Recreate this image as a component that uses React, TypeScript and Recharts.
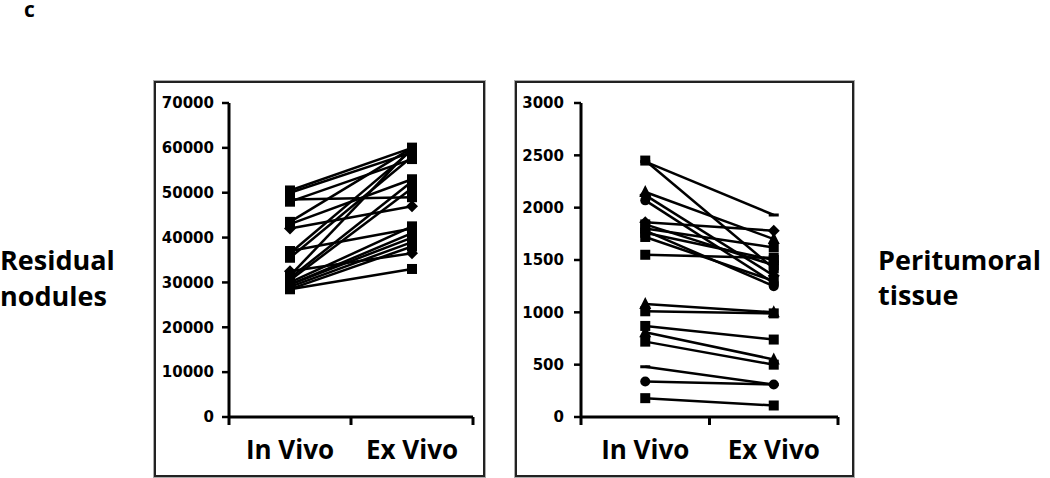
import React from 'react';
import { LineChart, Line, XAxis, YAxis } from 'recharts';

const categories = ['In Vivo', 'Ex Vivo'];

const noduleInVivo = [50500, 50000, 48500, 48000, 43500, 43000, 42000, 37000, 36500, 35500, 32500, 31500, 31000, 30500, 30000, 29500, 29500, 29000, 28500, 28500];
const noduleExVivo = [60000, 59000, 49000, 57500, 60000, 53000, 47000, 42000, 59500, 58000, 36500, 60000, 52500, 51000, 42500, 41000, 40000, 39000, 38000, 33000];
const noduleMarkers = ['square', 'square', 'square', 'square', 'square', 'square', 'diamond', 'square', 'square', 'square', 'diamond', 'square', 'square', 'square', 'square', 'square', 'square', 'square', 'square', 'square'];
const noduleTicks = [0, 10000, 20000, 30000, 40000, 50000, 60000, 70000];

const tissueInVivo = [2440, 2450, 2150, 2120, 2070, 1860, 1840, 1800, 1780, 1760, 1720, 1550, 1080, 1010, 870, 810, 720, 480, 340, 180];
const tissueExVivo = [1930, 1420, 1700, 1350, 1280, 1780, 1450, 1620, 1250, 1500, 1300, 1520, 1000, 990, 740, 550, 500, 310, 310, 110];
const tissueMarkers = ['dash', 'square', 'triangle', 'diamond', 'circle', 'diamond', 'square', 'square', 'circle', 'square', 'square', 'square', 'triangle', 'square', 'square', 'triangle', 'square', 'dash', 'circle', 'square'];
const tissueTicks = [0, 500, 1000, 1500, 2000, 2500, 3000];

const catTicks = [0, 0.5, 1, 1.5, 2];

function buildRows(inVivo: number[], exVivo: number[]) {
  return categories.map((name, i) => {
    const row: Record<string, number | string> = { x: i + 0.5, name };
    inVivo.forEach((v, j) => {
      row['s' + j] = i === 0 ? v : exVivo[j];
    });
    return row;
  });
}

const noduleRows = buildRows(noduleInVivo, noduleExVivo);
const tissueRows = buildRows(tissueInVivo, tissueExVivo);

const makeDot = (shape: string, sid: string) => (props: any) => {
  const { cx, cy, index } = props;
  const k = `${sid}-${index}`;
  if (cx == null || cy == null) return <g key={k} />;
  switch (shape) {
    case 'square':
      return <rect key={k} x={cx - 5} y={cy - 5} width={10} height={10} fill="#000" />;
    case 'diamond':
      return <polygon key={k} points={`${cx},${cy - 6} ${cx + 6},${cy} ${cx},${cy + 6} ${cx - 6},${cy}`} fill="#000" />;
    case 'triangle':
      return <polygon key={k} points={`${cx},${cy - 7} ${cx + 6},${cy + 5} ${cx - 6},${cy + 5}`} fill="#000" />;
    case 'circle':
      return <circle key={k} cx={cx} cy={cy} r={5} fill="#000" />;
    case 'dash':
      return <rect key={k} x={cx - 5} y={cy - 1.5} width={10} height={3} fill="#000" />;
    default:
      return <g key={k} />;
  }
};

const XTick = (props: any) => {
  const { x, y, payload } = props;
  const v = payload.value as number;
  if (Number.isInteger(v)) {
    return <line x1={x} x2={x} y1={y} y2={y + 8} stroke="#000" strokeWidth={3} />;
  }
  const label = categories[Math.floor(v)];
  return (
    <text x={x} y={y + 42} textAnchor="middle" fill="#000" fontFamily="'Open Sans', sans-serif" fontWeight={700} fontSize={26}>
      {label}
    </text>
  );
};

const yTickStyle = { fill: '#000', fontSize: 15, fontWeight: 700, fontFamily: "'DejaVu Sans', sans-serif" };

function Panel(props: {
  rows: any[];
  count: number;
  markers: string[];
  ticks: number[];
  max: number;
  width: number;
  yWidth: number;
  right: number;
  tickMargin: number;
  id: string;
}) {
  const { rows, count, markers, ticks, max, width, yWidth, right, tickMargin, id } = props;
  const keys = Array.from({ length: count }, (_, j) => 's' + j);
  return (
    <LineChart width={width} height={395} data={rows} margin={{ top: 21, right, left: 0, bottom: 0 }}>
      <XAxis
        dataKey="x"
        type="number"
        domain={[0, 2]}
        ticks={catTicks}
        interval={0}
        tick={<XTick />}
        tickLine={false}
        tickSize={0}
        tickMargin={0}
        stroke="#000"
        strokeWidth={3}
        axisLine={{ stroke: '#000', strokeWidth: 3 }}
        height={60}
      />
      <YAxis
        type="number"
        domain={[0, max]}
        ticks={ticks}
        interval={0}
        width={yWidth}
        tickSize={7}
        tickMargin={tickMargin}
        stroke="#000"
        strokeWidth={3}
        tickLine={{ stroke: '#000', strokeWidth: 2.5 }}
        axisLine={{ stroke: '#000', strokeWidth: 3 }}
        tick={yTickStyle}
      />
      {keys.map((k, j) => (
        <Line
          key={k}
          dataKey={k}
          type="linear"
          stroke="#000"
          strokeWidth={2.5}
          dot={makeDot(markers[j], id + k)}
          activeDot={false}
          isAnimationActive={false}
          legendType="none"
        />
      ))}
    </LineChart>
  );
}

const boxStyle = (left: number, width: number): React.CSSProperties => ({
  position: 'absolute',
  left,
  top: 81,
  width,
  height: 396,
  border: '2px solid #222',
  boxShadow: '0 0 0 1px #aaa',
  boxSizing: 'border-box',
  background: '#fff',
});

export default function App() {
  const font = "'Open Sans', sans-serif";
  return (
    <div style={{ position: 'absolute', left: 0, top: 0, width: 1050, height: 478, background: '#fff', overflow: 'hidden' }}>
      <svg width={1050} height={478} style={{ position: 'absolute', left: 0, top: 0 }}>
        <text x={24} y={17} fontFamily={font} fontWeight={700} fontSize={21} fill="#000">c</text>
        <text x={0} y={270} fontFamily={font} fontWeight={700} fontSize={27} fill="#000">Residual</text>
        <text x={0} y={306} fontFamily={font} fontWeight={700} fontSize={27} fill="#000">nodules</text>
        <text x={878} y={270} fontFamily={font} fontWeight={700} fontSize={27} fill="#000">Peritumoral</text>
        <text x={878} y={305} fontFamily={font} fontWeight={700} fontSize={27} fill="#000">tissue</text>
      </svg>
      <div style={boxStyle(154, 331)} />
      <div style={boxStyle(515, 339)} />
      <div style={{ position: 'absolute', left: 155, top: 82 }}>
        <Panel rows={noduleRows} count={noduleInVivo.length} markers={noduleMarkers} ticks={noduleTicks} max={70000} width={329} yWidth={74} right={11} tickMargin={8} id="n" />
      </div>
      <div style={{ position: 'absolute', left: 516, top: 82 }}>
        <Panel rows={tissueRows} count={tissueInVivo.length} markers={tissueMarkers} ticks={tissueTicks} max={3000} width={337} yWidth={65} right={15} tickMargin={10} id="t" />
      </div>
    </div>
  );
}
